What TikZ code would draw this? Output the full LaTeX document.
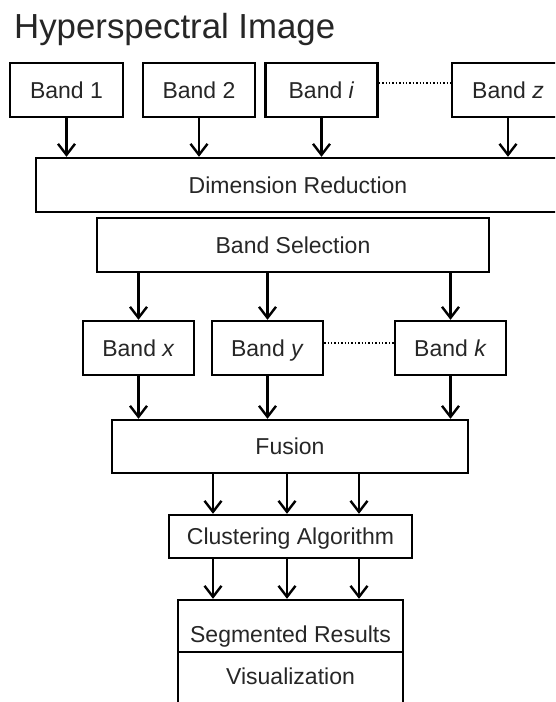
\documentclass[tikz,border=0pt]{standalone}
\usepackage{fontspec}
\setmainfont{Liberation Sans}
\usetikzlibrary{arrows.meta}
\usetikzlibrary{positioning}

\begin{document}
\begin{tikzpicture}[x=1pt,y=-1pt,
  blk/.style={draw,line width=2.4pt,inner sep=0pt,minimum height=54pt,
    text height=16.5pt,text depth=0pt,font=\fontsize{23}{27}\selectfont,text=black!85},
  arr/.style={line width=2.4pt,-{Straight Barb[length=11pt,width=17pt,line width=2.4pt]}},
  dots/.style={line width=1.4pt,dotted}]
\clip (0,0) rectangle (555,702);
\node[anchor=base west,inner sep=0pt,font=\fontsize{34.8}{40}\selectfont,text=black!85] (title) at (14,38) {Hyperspectral Image};

\node[blk,minimum width=113pt] (b1) at (66.5,90) {Band 1};
\node[blk,minimum width=112pt] (b2) at (199,90) {Band 2};
\node[blk,minimum width=112pt] (bi) at (321.5,90) {Band \textit{i}};
\node[blk,minimum width=112pt] (bz) at (508,90) {Band \textit{z}};
\draw[dots] ([yshift=7pt]bi.east) -- ([yshift=7pt]bz.west);

\node[blk,minimum width=524pt] (dr) at (298,185) {Dimension Reduction};
\foreach \b in {b1,b2,bi,bz}
  \draw[arr] (\b.south) -- (\b.south |- dr.north);

\node[blk,minimum width=392pt] (bs) at (293,245) {Band Selection};

\node[blk,minimum width=111pt] (bx) at (138.5,348) {Band \textit{x}};
\node[blk,minimum width=111pt] (by) at (267.5,348) {Band \textit{y}};
\node[blk,minimum width=111pt] (bk) at (450.5,348) {Band \textit{k}};
\draw[dots] ([yshift=5pt]by.east) -- ([yshift=5pt]bk.west);

\node[blk,minimum width=356pt,minimum height=53pt] (fu) at (290,446.5) {Fusion};
\foreach \b in {bx,by,bk} {
  \draw[arr] (bs.south -| \b.north) -- (\b.north);
  \draw[arr] (\b.south) -- (\b.south |- fu.north);
}

\node[blk,minimum width=243pt,minimum height=43pt] (ca) at (290.5,536.5) {Clustering Algorithm};
\node[blk,minimum width=225pt,minimum height=52pt,text height=32pt] (seg) at (290.5,626) {Segmented Results};
\node[blk,minimum width=225pt,minimum height=60pt,text height=18pt,text depth=14pt] (vis) at (290.5,682) {Visualization};

\foreach \x in {213,287,359} {
  \draw[arr] (fu.south -| \x,0) -- (ca.north -| \x,0);
  \draw[arr] (ca.south -| \x,0) -- (seg.north -| \x,0);
}

\end{tikzpicture}
\end{document}
